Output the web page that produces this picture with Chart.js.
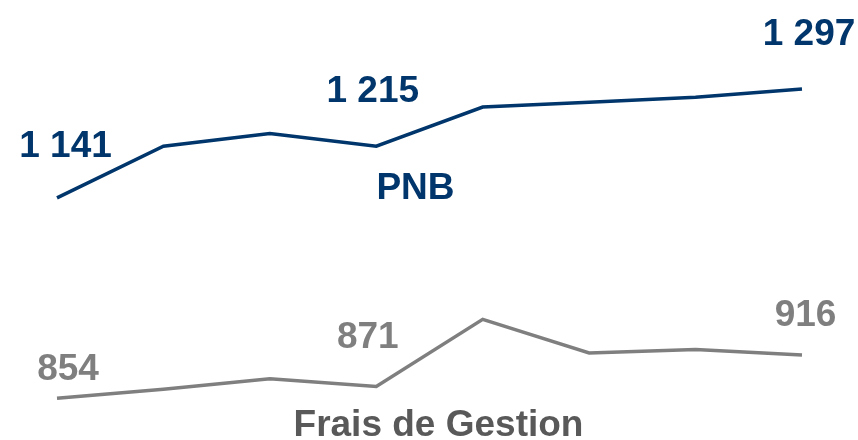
<!DOCTYPE html>
<html>
<head>
<meta charset="utf-8">
<script src="https://cdn.jsdelivr.net/npm/chart.js@4"></script>
<style>
html,body{margin:0;padding:0;background:#fff;}
#wrap{width:858px;height:440px;position:relative;}
</style>
</head>
<body>
<div id="wrap"><canvas id="c" width="858" height="440"></canvas></div>
<script>
const categories = ["P1","P2","P3","P4","P5","P6","P7","P8"];
const pnbValues = [1141, 1215, 1233, 1215, 1271, 1278, 1285, 1297];
const fraisValues = [854, 867, 882, 871, 967, 919, 924, 916];
const pnbLabels = ["1 141", null, null, "1 215", null, null, null, "1 297"];
const fraisLabels = ["854", null, null, "871", null, null, null, "916"];
const seriesNames = ["PNB", "Frais de Gestion"];

const NAVY = "#00366b";
const GRAY = "#7f7f7f";
const DARKGRAY = "#595959";
const FONT = "bold 37px 'Liberation Sans', Arial, sans-serif";

// label offsets (dx, dy to baseline) per labelled point
const pnbOffsets = {0:[8.5,-40.5], 3:[-3.5,-44.5], 7:[7,-43.5]};
const fraisOffsets = {0:[11,-18.5], 3:[-8.5,-38.5], 7:[3.5,-28.5]};

const labelPlugin = {
  id: "labels",
  afterDatasetsDraw(chart) {
    const ctx = chart.ctx;
    ctx.save();
    ctx.font = FONT;
    ctx.textAlign = "center";
    ctx.textBaseline = "alphabetic";
    const sets = [[0, pnbLabels, pnbOffsets, NAVY], [1, fraisLabels, fraisOffsets, GRAY]];
    sets.forEach(([di, labels, offs, col]) => {
      const meta = chart.getDatasetMeta(di);
      ctx.fillStyle = col;
      labels.forEach((t, i) => {
        if (!t) return;
        const p = meta.data[i];
        const o = offs[i];
        ctx.fillText(t, p.x + o[0], p.y + o[1]);
      });
    });
    // series names
    const xs = chart.scales.x;
    const mid = (xs.getPixelForValue(3) + xs.getPixelForValue(4)) / 2;
    ctx.fillStyle = NAVY;
    ctx.fillText(seriesNames[0], mid - 14, chart.getDatasetMeta(0).data[3].y + 52.5);
    ctx.fillStyle = DARKGRAY;
    ctx.fillText(seriesNames[1], mid + 9, chart.getDatasetMeta(1).data[3].y + 49.5);
    ctx.restore();
  }
};

new Chart(document.getElementById("c"), {
  type: "line",
  data: {
    labels: categories,
    datasets: [
      {label: seriesNames[0], data: pnbValues, borderColor: NAVY, borderWidth: 3.5, pointRadius: 0, tension: 0, fill: false},
      {label: seriesNames[1], data: fraisValues, borderColor: GRAY, borderWidth: 3.5, pointRadius: 0, tension: 0, fill: false}
    ]
  },
  options: {
    responsive: false,
    animation: false,
    layout: {padding: {left: 57, right: 56, top: 17, bottom: 4}},
    plugins: {legend: {display: false}, tooltip: {enabled: false}},
    scales: {
      x: {display: false, offset: false},
      y: {display: false, min: 800, max: 1400}
    }
  },
  plugins: [labelPlugin]
});
</script>
</body>
</html>
